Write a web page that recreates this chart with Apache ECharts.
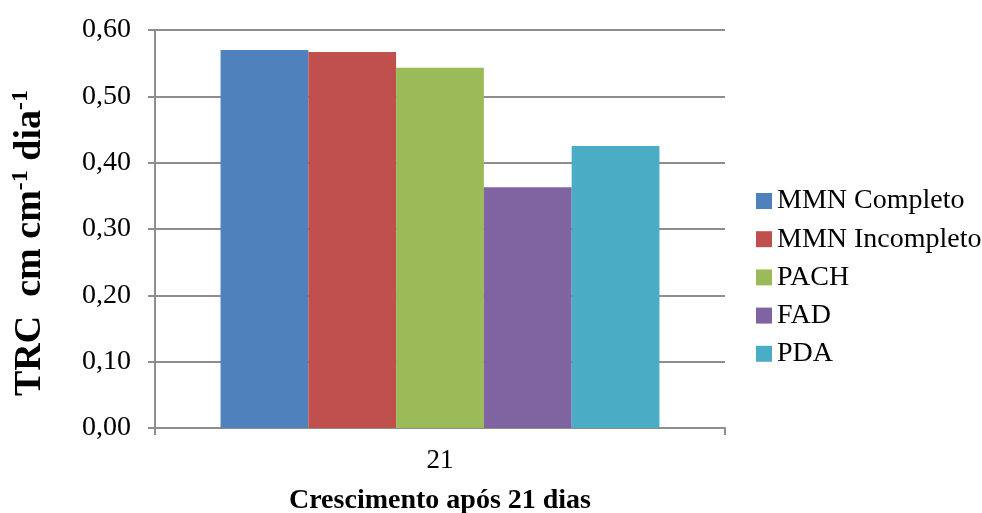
<!DOCTYPE html>
<html>
<head>
<meta charset="utf-8">
<script src="https://cdn.jsdelivr.net/npm/echarts@6/dist/echarts.min.js"></script>
<style>
  html, body { margin: 0; padding: 0; background: #fff; }
  #chart { width: 982px; height: 513px; }
</style>
</head>
<body>
<div id="chart"></div>
<script>
// Relative growth rate after 21 days, per culture medium
const categories = ['21'];
const seriesNames = ['MMN Completo', 'MMN Incompleto', 'PACH', 'FAD', 'PDA'];
const mmnCompleto = [0.570];
const mmnIncompleto = [0.567];
const pach = [0.543];
const fad = [0.363];
const pda = [0.425];
const yTicks = [0, 0.1, 0.2, 0.3, 0.4, 0.5, 0.6];

const colors = ['#4f81bd', '#c0504d', '#9bbb59', '#8064a2', '#4bacc6'];
const values = [mmnCompleto, mmnIncompleto, pach, fad, pda];
const font = '"Liberation Serif", "Times New Roman", serif';
const gray = '#8e8e8e';

const chart = echarts.init(document.getElementById('chart'));
chart.setOption({
  animation: false,
  textStyle: { fontFamily: font },
  grid: { left: 155, right: 257, top: 30, bottom: 85, outerBoundsMode: 'none', containLabel: false },
  legend: {
    orient: 'vertical',
    left: 751,
    top: 182,
    icon: 'rect',
    itemWidth: 16,
    itemHeight: 16,
    itemGap: 10.2,
    textStyle: { fontFamily: font, fontSize: 28, color: '#000' },
    data: seriesNames
  },
  xAxis: {
    type: 'category',
    data: categories,
    axisLine: { lineStyle: { color: gray, width: 2 } },
    axisTick: { show: true, length: 7, lineStyle: { color: gray, width: 2 } },
    axisLabel: { fontFamily: font, fontSize: 27, color: '#000', margin: 19 },
    name: 'Crescimento após 21 dias',
    nameLocation: 'middle',
    nameGap: 59,
    nameTextStyle: { fontFamily: font, fontSize: 28, fontWeight: 'bold', color: '#000' }
  },
  yAxis: {
    type: 'value',
    min: 0,
    max: 0.6,
    interval: 0.1,
    axisLine: { show: true, lineStyle: { color: gray, width: 2 } },
    axisTick: { show: true, inside: false, length: 7, lineStyle: { color: gray, width: 2 } },
    splitLine: { lineStyle: { color: gray, width: 2 } },
    axisLabel: {
      fontFamily: font, fontSize: 28, color: '#000', margin: 24,
      customValues: yTicks,
      formatter: v => v.toFixed(2).replace('.', ',')
    },
    name: '{b|TRC  cm cm}{s|-1}{b| dia}{s|-1}',
    nameLocation: 'middle',
    nameGap: 104,
    nameRotate: 90,
    nameTextStyle: {
      padding: [0, 28, 0, 0],
      rich: {
        b: { fontFamily: font, fontSize: 38, fontWeight: 'bold', color: '#000' },
        s: { fontFamily: font, fontSize: 24, fontWeight: 'bold', color: '#000', verticalAlign: 'top', padding: [0, 0, 18, 0] }
      }
    }
  },
  series: seriesNames.map((name, i) => ({
    name: name,
    type: 'bar',
    data: values[i],
    itemStyle: { color: colors[i] },
    barGap: '0%',
    barCategoryGap: '23%'
  }))
});
</script>
</body>
</html>
